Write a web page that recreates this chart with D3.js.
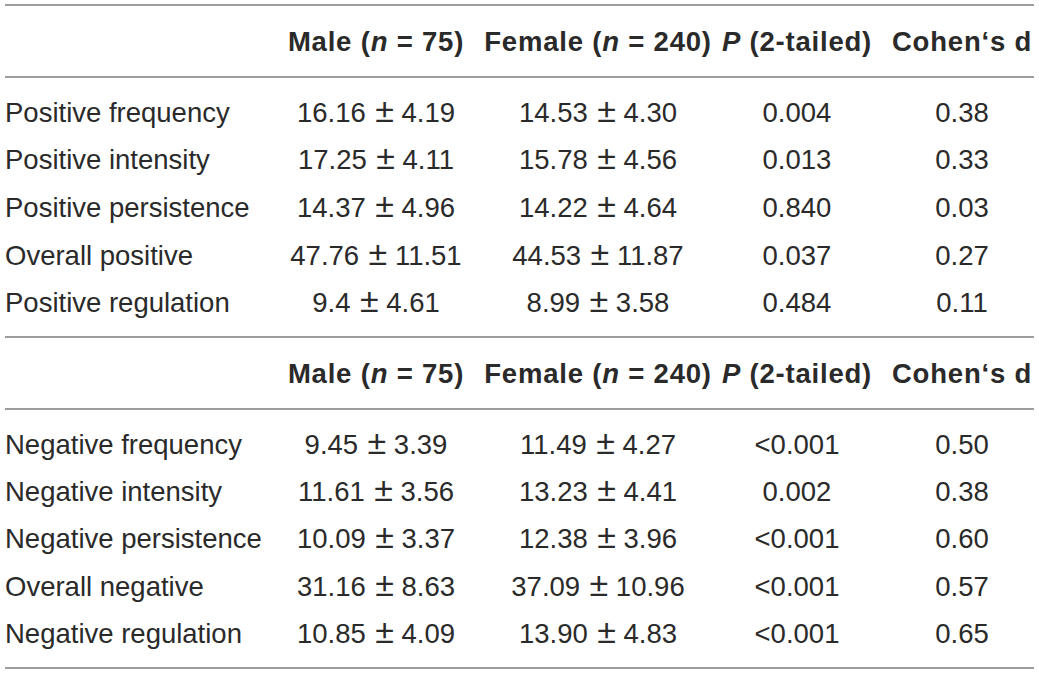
<!DOCTYPE html>
<html>
<head>
<meta charset="utf-8">
<script src="https://cdn.jsdelivr.net/npm/d3@7"></script>
<style>
  html, body { margin: 0; padding: 0; background: #fff; }
  svg { display: block; }
  text { font-family: "Liberation Sans", Arial, Helvetica, sans-serif; fill: #2a2a2a; }
</style>
</head>
<body>
<div id="table"></div>
<script>
// Table content
const positiveLabels = ["Positive frequency", "Positive intensity", "Positive persistence", "Overall positive", "Positive regulation"];
const positiveMaleMean = ["16.16", "17.25", "14.37", "47.76", "9.4"];
const positiveMaleSd = ["4.19", "4.11", "4.96", "11.51", "4.61"];
const positiveFemaleMean = ["14.53", "15.78", "14.22", "44.53", "8.99"];
const positiveFemaleSd = ["4.30", "4.56", "4.64", "11.87", "3.58"];
const positiveP = ["0.004", "0.013", "0.840", "0.037", "0.484"];
const positiveD = ["0.38", "0.33", "0.03", "0.27", "0.11"];

const negativeLabels = ["Negative frequency", "Negative intensity", "Negative persistence", "Overall negative", "Negative regulation"];
const negativeMaleMean = ["9.45", "11.61", "10.09", "31.16", "10.85"];
const negativeMaleSd = ["3.39", "3.56", "3.37", "8.63", "4.09"];
const negativeFemaleMean = ["11.49", "13.23", "12.38", "37.09", "13.90"];
const negativeFemaleSd = ["4.27", "4.41", "3.96", "10.96", "4.83"];
const negativeP = ["<0.001", "0.002", "<0.001", "<0.001", "<0.001"];
const negativeD = ["0.50", "0.38", "0.60", "0.57", "0.65"];

// header pieces: [text, italic]
const headerCells = [
	[["Male (", false], ["n", true], [" = 75)", false]],
	[["Female (", false], ["n", true], [" = 240)", false]],
	[["P", true], [" (2-tailed)", false]],
	[["Cohen‘s d", false]]
];
const columns = ["male", "female", "p", "d"];

(function (d3) {
	"use strict";
	const width = 1039, height = 675;
	const fontSize = 27.5;

	const svg = d3.select("#table").append("svg")
		.attr("width", width)
		.attr("height", height);

	// column centres
	const xCol = d3.scaleOrdinal()
		.domain(columns)
		.range([376, 598, 797, 962]);
	const xLabel = 5;

	const sections = [
		{ labels: positiveLabels, maleMean: positiveMaleMean, maleSd: positiveMaleSd,
		  femaleMean: positiveFemaleMean, femaleSd: positiveFemaleSd, p: positiveP, d: positiveD, top: 5, bottom: 337 },
		{ labels: negativeLabels, maleMean: negativeMaleMean, maleSd: negativeMaleSd,
		  femaleMean: negativeFemaleMean, femaleSd: negativeFemaleSd, p: negativeP, d: negativeD, top: 337, bottom: 668 }
	];

	function hline(y) {
		svg.append("line")
			.attr("x1", 5).attr("x2", 1034)
			.attr("y1", y).attr("y2", y)
			.attr("stroke", "#9d9d9d")
			.attr("stroke-width", 2);
	}

	// mean ± sd with a larger plus-minus sign like the source
	function meanSd(sel, meanKey, sdKey) {
		const t = sel.append("text")
			.attr("dy", "0.36em")
			.attr("text-anchor", "middle")
			.attr("font-size", fontSize);
		t.append("tspan").text(function (d) { return d[meanKey]; });
		t.append("tspan").attr("font-size", 34).text(" ±");
		t.append("tspan").text(function (d) { return " " + d[sdKey]; });
		return t;
	}

	sections.forEach(function (s) {
		const headerBottom = s.top + 72;
		hline(s.top);
		hline(headerBottom);

		// header
		const headerY = (s.top + headerBottom) / 2;
		headerCells.forEach(function (cell, i) {
			const t = svg.append("text")
				.attr("x", xCol(columns[i]))
				.attr("y", headerY)
				.attr("dy", "0.36em")
				.attr("text-anchor", "middle")
				.attr("font-size", fontSize)
				.attr("letter-spacing", 0.8)
				.attr("font-weight", "bold");
			cell.forEach(function (part) {
				t.append("tspan")
					.attr("font-style", part[1] ? "italic" : "normal")
					.text(part[0]);
			});
		});

		// rows
		const yRow = d3.scaleBand()
			.domain(d3.range(s.labels.length))
			.range([headerBottom + 11, s.bottom - 11]);

		const rows = svg.append("g").selectAll("g")
			.data(s.labels.map(function (label, i) {
				return {
					label: label, maleMean: s.maleMean[i], maleSd: s.maleSd[i],
					femaleMean: s.femaleMean[i], femaleSd: s.femaleSd[i], p: s.p[i], d: s.d[i], i: i
				};
			}))
			.enter()
			.append("g")
			.attr("transform", function (d) { return "translate(0," + (yRow(d.i) + yRow.bandwidth() / 2) + ")"; });

		rows.append("text")
			.attr("x", xLabel)
			.attr("dy", "0.36em")
			.attr("font-size", fontSize)
			.text(function (d) { return d.label; });

		meanSd(rows, "maleMean", "maleSd").attr("x", xCol("male"));
		meanSd(rows, "femaleMean", "femaleSd").attr("x", xCol("female"));

		["p", "d"].forEach(function (c) {
			rows.append("text")
				.attr("x", xCol(c))
				.attr("dy", "0.36em")
				.attr("text-anchor", "middle")
				.attr("font-size", fontSize)
				.text(function (d) { return d[c]; });
		});
	});
	hline(668);
})(d3);
</script>
</body>
</html>
